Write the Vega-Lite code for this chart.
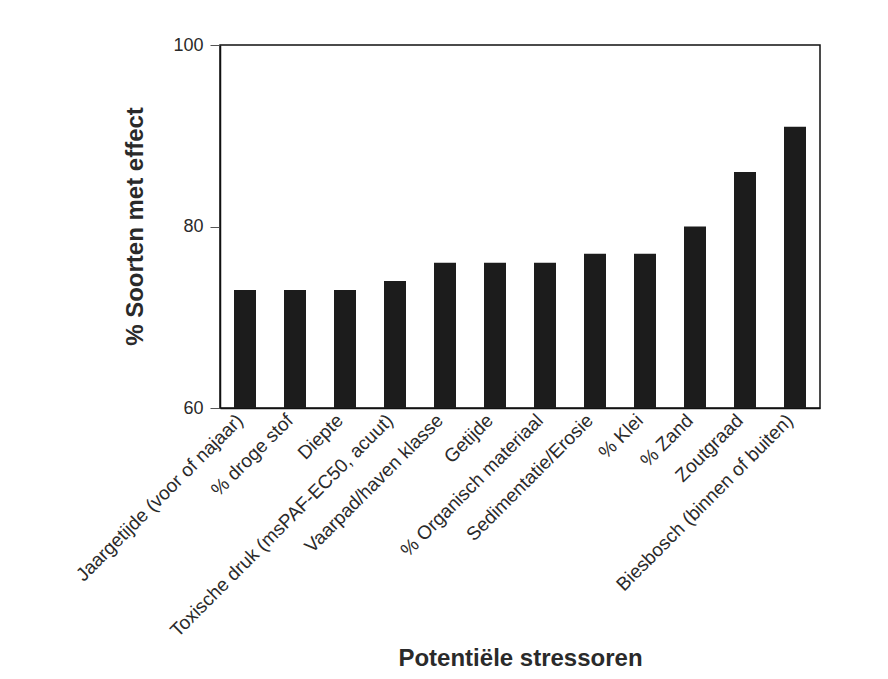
{
  "$schema": "https://vega.github.io/schema/vega-lite/v6.json",
  "autosize": "none",
  "padding": {"left": 220, "top": 45, "right": 68, "bottom": 271},
  "width": 600,
  "height": 363,
  "background": "white",
  "config": {
    "font": "Liberation Sans",
    "view": {"stroke": "#111", "strokeWidth": 1.5},
    "axis": {"grid": false, "domainColor": "#111", "tickColor": "#555", "labelColor": "#2a2a2a", "titleColor": "#2a2a2a"}
  },
  "data": {"values": [
    {"stressor": "Jaargetijde (voor of najaar)", "pct": 73},
    {"stressor": "% droge stof", "pct": 73},
    {"stressor": "Diepte", "pct": 73},
    {"stressor": "Toxische druk (msPAF-EC50, acuut)", "pct": 74},
    {"stressor": "Vaarpad/haven klasse", "pct": 76},
    {"stressor": "Getijde", "pct": 76},
    {"stressor": "% Organisch materiaal", "pct": 76},
    {"stressor": "Sedimentatie/Erosie", "pct": 77},
    {"stressor": "% Klei", "pct": 77},
    {"stressor": "% Zand", "pct": 80},
    {"stressor": "Zoutgraad", "pct": 86},
    {"stressor": "Biesbosch (binnen of buiten)", "pct": 91}
  ]},
  "mark": {"type": "bar", "color": "#1c1c1c", "clip": true},
  "encoding": {
    "x": {
      "field": "stressor", "type": "nominal", "sort": null,
      "scale": {"paddingInner": 0.56, "paddingOuter": 0.28},
      "axis": {
        "title": "Potentiële stressoren",
        "titleFontSize": 24, "titleFontWeight": "bold",
        "titleY": 257, "titleBaseline": "alphabetic",
        "labelAngle": -45, "labelAlign": "right", "labelBaseline": "middle",
        "labelFontSize": 19, "labelPadding": 9, "labelOffset": -5, "labelLimit": 400,
        "ticks": false, "domainWidth": 1.5
      }
    },
    "y": {
      "field": "pct", "type": "quantitative",
      "scale": {"domain": [60, 100], "zero": false},
      "axis": {
        "title": "% Soorten met effect",
        "titleFontSize": 24, "titleFontWeight": "bold",
        "titleX": -85, "titleY": 181, "titleAngle": -90, "titleBaseline": "middle", "titleAlign": "center",
        "values": [60, 80, 100],
        "labelFontSize": 18, "tickSize": 10, "labelPadding": 7, "domainWidth": 1.5
      }
    }
  }
}
